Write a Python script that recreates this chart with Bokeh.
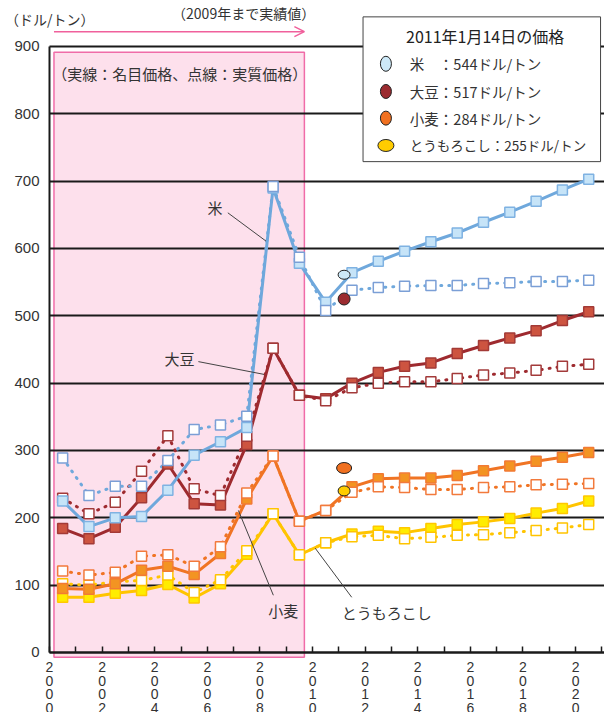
from bokeh.plotting import figure
from bokeh.models import Range1d, FixedTicker, Arrow, OpenHead
from bokeh.core.properties import value
from bokeh.embed import file_html
from bokeh.resources import INLINE

# ---------------- data ----------------
years = list(range(2000, 2021))
rice_nominal = [225, 187, 200, 202, 241, 293, 313, 334, 690, 578, 520, 564, 581, 596, 610, 623, 639, 654, 670, 687, 703]
rice_real = [289, 233, 247, 247, 285, 331, 338, 351, 692, 587, 508, 538, 542, 544, 545, 545, 548, 549, 551, 551, 553]
soy_nominal = [184, 169, 186, 230, 280, 221, 219, 309, 452, 382, 377, 400, 416, 425, 430, 444, 456, 467, 478, 493, 506]
soy_real = [229, 206, 223, 269, 322, 243, 233, 321, 452, 382, 374, 393, 400, 402, 402, 407, 412, 415, 419, 425, 428]
wheat_nominal = [95, 94, 102, 122, 128, 116, 147, 228, 292, 195, 211, 246, 258, 259, 259, 263, 270, 277, 284, 290, 297]
wheat_real = [121, 115, 119, 143, 145, 128, 157, 237, 292, 195, 211, 238, 246, 245, 242, 242, 245, 246, 249, 250, 251]
corn_nominal = [82, 82, 88, 92, 101, 81, 102, 146, 206, 145, 163, 176, 180, 178, 184, 190, 194, 199, 207, 214, 225]
corn_real = [102, 100, 105, 107, 115, 89, 108, 151, 206, 145, 163, 172, 174, 169, 171, 174, 175, 178, 181, 185, 190]

spot_x = 2010.7
spot_names = ["米", "大豆", "小麦", "とうもろこし"]
spot_legend_values = [544, 517, 284, 255]
spot_plot_values = [561, 525, 274, 240]

y_ticks = list(range(0, 1000, 100))
year_label_years = list(range(2000, 2021, 2))

JP = "Noto Sans CJK JP"
NUM = "Liberation Sans"
TXT = "#333333"
PINK = "#f0609c"

# colours: (line, filled-marker fill, filled-marker edge, hollow edge)
styles = {
    "corn": ("#ffc400", "#ffec00", "#ffc800", "#ffc400"),
    "wheat": ("#f07424", "#f39422", "#f27a34", "#f27a3c"),
    "soy": ("#9e2a2f", "#cd5440", "#a33a36", "#a33a3a"),
    "rice": ("#6fa8dc", "#c6e4f8", "#7fb2e2", "#7b9fd6"),
}
series = [
    ("corn", corn_nominal, corn_real),
    ("wheat", wheat_nominal, wheat_real),
    ("soy", soy_nominal, soy_real),
    ("rice", rice_nominal, rice_real),
]
spot_fills = ["#cde9f8", "#9b2b30", "#f07020", "#ffcc00"]

X0 = 1999.5          # y-axis position (left edge of the first year slot)
X_START = X0 - 49 / 26.3
X_END = 2020.60
Y_START = -60 / 0.6733
Y_END = 968.3
DIGIT_ROWS_Y = [-14.85, -34.6, -54.4, -74.3]   # layout rows for the stacked year digits

# ---------------- figure ----------------
p = figure(width=604, height=712, output_backend="svg", toolbar_location=None,
           x_range=Range1d(X_START, X_END), y_range=Range1d(Y_START, Y_END),
           min_border_left=0, min_border_right=0, min_border_top=0, min_border_bottom=0)
p.outline_line_color = None
p.background_fill_color = "white"
p.border_fill_color = "white"

# actual-value shaded period
p.quad(left=[1999.67], right=[2009.19], bottom=[-7], top=[891.5],
       fill_color="#fde0ec", line_color="#f06ca8", line_width=1.5, level="image")

# axes / grid
p.xgrid.visible = False
p.yaxis.ticker = FixedTicker(ticks=y_ticks)
p.yaxis.bounds = (0, 900)
p.yaxis.fixed_location = X0
p.ygrid.grid_line_color = "#1a1a1a"
p.ygrid.grid_line_width = 2
p.ygrid.cross_bounds = (X0, X_END)
p.yaxis.axis_line_color = "#1a1a1a"
p.yaxis.axis_line_width = 2
p.yaxis.major_tick_in = 0
p.yaxis.major_tick_out = 0
p.yaxis.minor_tick_line_color = None
p.yaxis.major_label_standoff = 10
p.yaxis.major_label_text_font = NUM
p.yaxis.major_label_text_font_size = "15px"
p.yaxis.major_label_text_color = TXT

x_ticks = [X0 + k for k in range(22)]
p.xaxis.ticker = FixedTicker(ticks=x_ticks)
p.xaxis.bounds = (X0, X_END)
p.xaxis.major_label_overrides = {t: "" for t in x_ticks}
p.xaxis.fixed_location = 0
p.xaxis.axis_line_color = "#1a1a1a"
p.xaxis.axis_line_width = 2
p.xaxis.major_tick_in = 6
p.xaxis.major_tick_out = 0
p.xaxis.major_tick_line_color = "#1a1a1a"
p.xaxis.major_tick_line_width = 1.5
p.xaxis.minor_tick_line_color = None

# vertical year labels under the axis (one digit per row)
label_x = [yr - 0.5 for yr in year_label_years]
for r, ry in enumerate(DIGIT_ROWS_Y):
    p.text(x=label_x, y=[ry] * len(label_x),
           text=[str(yr)[r] for yr in year_label_years], text_font=value(NUM),
           text_font_size=value("14px"), text_color=TXT,
           text_align="center", text_baseline="top")

# lines
for key, nom, real in series:
    lc = styles[key][0]
    p.line(years, nom, line_color=lc, line_width=3, line_join="round")
    p.line(years, real, line_color=lc, line_width=3, line_dash="1 7", line_cap="round")
# markers
for key, nom, real in series:
    lc, fc, ec, hc = styles[key]
    p.scatter(years, nom, marker="square", size=10, fill_color=fc, line_color=ec, line_width=1.5)
    p.scatter(years, real, marker="square", size=10, fill_color="white", line_color=hc, line_width=1.5)

# spot prices 2011-01-14
p.ellipse(x=[spot_x] * 4, y=spot_plot_values, width=[12, 12, 15, 12], height=[9, 12, 11, 10],
          width_units="screen", height_units="screen", fill_color=spot_fills,
          line_color="#222222", line_width=1)

# leader lines and labels
p.segment(x0=[2006.28, 2005.16, 2008.01, 2010.99], y0=[653, 432, 85, 82],
          x1=[2007.73, 2007.66, 2006.68, 2009.6], y1=[611, 413, 211, 155],
          line_color="#444444", line_width=1)
p.text(x=[2005.79, 2004.44, 2008.39, 2012.32], y=[661, 436, 62, 60],
       text=["米", "大豆", "小麦", "とうもろこし"], text_font=value(JP),
       text_font_size=value("15px"), text_color=TXT, text_align="center", text_baseline="middle")

# top texts
p.text(x=[2006.88], y=[949], text=["（2009年まで実績値）"], text_font=value(JP),
       text_font_size=value("14px"), text_color=TXT, text_align="center", text_baseline="middle")
p.add_layout(Arrow(end=OpenHead(size=10, line_color=PINK, line_width=1.5),
                   x_start=1999.67, y_start=922, x_end=2009.19, y_end=922,
                   line_color=PINK, line_width=1.5))
p.text(x=[2004.45], y=[860], text=["（実線：名目価格、点線：実質価格）"], text_font=value(JP),
       text_font_size=value("15px"), text_color=TXT, text_align="center", text_baseline="middle")
p.text(x=[1997.81], y=[941], text=["（ドル/トン）"], text_font=value(JP),
       text_font_size=value("14px"), text_color=TXT, text_align="left", text_baseline="middle")

# legend box
leg_y = [874.3, 833.2, 793.6, 753.0]
p.quad(left=[2011.42], right=[2020.45], top=[944], bottom=[729], fill_color="white",
       line_color="#444444", line_width=1, level="overlay")
p.text(x=[2016.06], y=[916], text=["2011年1月14日の価格"], text_font=value(JP),
       text_font_size=value("16px"), text_color="#222222", text_align="center",
       text_baseline="middle", level="overlay")
p.ellipse(x=[2012.29] * 4, y=leg_y, width=[11, 11, 11, 16], height=[15, 14, 14, 12],
          width_units="screen", height_units="screen", fill_color=spot_fills,
          line_color="#222222", line_width=1, level="overlay")
leg_texts = []
for nm, v in zip(spot_names, spot_legend_values):
    name = nm + "　" if len(nm) == 1 else nm
    leg_texts.append(f"{name}：{v}ドル/トン")
p.text(x=[2013.2] * 3, y=leg_y[:3], text=leg_texts[:3], text_font=value(JP),
       text_font_size=value("14.5px"), text_color=TXT, text_align="left",
       text_baseline="middle", level="overlay")
p.text(x=[2013.2], y=leg_y[3:], text=leg_texts[3:], text_font=value(JP),
       text_font_size=value("13.5px"), text_color=TXT, text_align="left",
       text_baseline="middle", level="overlay")

open("out.html", "w").write(file_html(p, INLINE))
